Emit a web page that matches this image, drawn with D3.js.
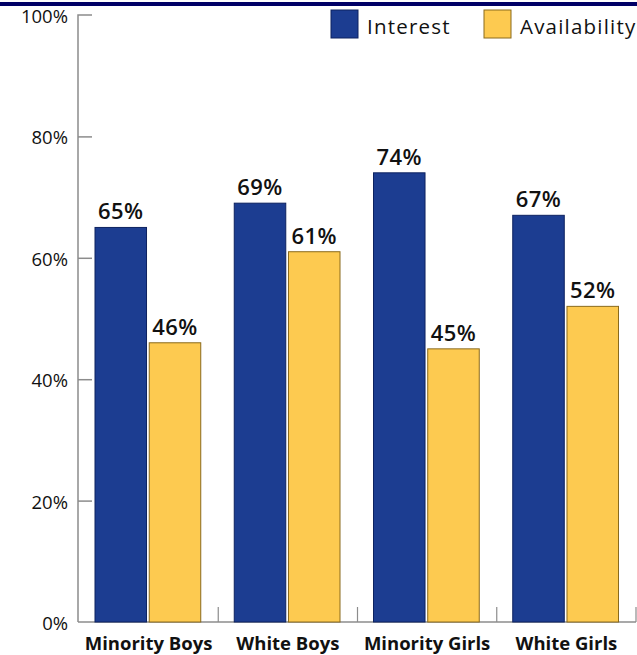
<!DOCTYPE html>
<html><head><meta charset="utf-8">
<script src="https://cdn.jsdelivr.net/npm/d3@7"></script>
<style>
html,body{margin:0;padding:0;background:#fff;}
svg{display:block;font-family:"Open Sans",sans-serif;}
</style></head>
<body><svg id="c" width="637" height="655"></svg>
<script>
const categories = ["Minority Boys","White Boys","Minority Girls","White Girls"];
const seriesNames = ["Interest","Availability"];
const interest = [65,69,74,67];
const availability = [46,61,45,52];
const yTicks = [0,20,40,60,80,100];
const colors = ["#1c3d91","#fdca50"];
const strokes = ["#0d2260","#8a6a1c"];

const svg = d3.select("#c");
const W = 637, H = 655;
const x0 = 79, x1 = 636, y0 = 622, y1 = 15;

// top band
svg.append("rect").attr("x",0).attr("y",2).attr("width",W).attr("height",4).attr("fill","#000066");

const x = d3.scaleBand().domain(categories).range([x0,x1]).paddingInner(0).paddingOuter(0);
const xs = d3.scaleBand().domain(seriesNames).range([16, x.bandwidth()-17.5]).paddingInner(0.05);
const y = d3.scaleLinear().domain([0,100]).range([y0,y1]);

// y axis
const yAxis = d3.axisRight(y).tickValues(yTicks).tickSize(14).tickFormat("");
const gy = svg.append("g").attr("transform",`translate(${x0-1},0)`).call(yAxis);
gy.select(".domain").attr("stroke","#8c8c8c").attr("stroke-width",1.5).attr("d",`M14,${y1}H0V${y0}`);
gy.selectAll(".tick line").attr("stroke","#8c8c8c").attr("stroke-width",1.5);
gy.selectAll(".tick").filter(d=>d===0||d===100).select("line").remove();
// y labels
svg.append("g").selectAll("text").data(yTicks).join("text")
  .attr("x",68).attr("y",d=>y(d)+8).attr("text-anchor","end")
  .attr("font-size",18.5).attr("font-weight",500).attr("fill","#111").text(d=>d+"%");

// baseline
svg.append("line").attr("x1",x0-1).attr("x2",x1).attr("y1",y0).attr("y2",y0).attr("stroke","#8c8c8c").attr("stroke-width",1.5);
// group separators
svg.append("g").selectAll("line").data(categories).join("line")
  .attr("x1",d=>x(d)+x.bandwidth()).attr("x2",d=>x(d)+x.bandwidth())
  .attr("y1",y0).attr("y2",y0-15).attr("stroke","#8c8c8c").attr("stroke-width",1.2);

const data = categories.map((c,i)=>({cat:c, vals:[interest[i],availability[i]]}));
const groups = svg.append("g").selectAll("g").data(data).join("g")
  .attr("transform",d=>`translate(${x(d.cat)},0)`);
groups.selectAll("rect").data(d=>d.vals.map((v,j)=>({s:seriesNames[j],v,j}))).join("rect")
  .attr("x",d=>xs(d.s)).attr("width",xs.bandwidth())
  .attr("y",d=>y(d.v)).attr("height",d=>y0-y(d.v))
  .attr("fill",d=>colors[d.j]).attr("stroke",d=>strokes[d.j]).attr("stroke-width",1);
groups.selectAll("text.v").data(d=>d.vals.map((v,j)=>({s:seriesNames[j],v,j}))).join("text")
  .attr("class","v")
  .attr("x",d=>xs(d.s)+xs.bandwidth()/2).attr("y",d=>y(d.v)-8)
  .attr("text-anchor","middle").attr("font-size",22).attr("font-weight",600)
  .attr("letter-spacing",0.5).attr("fill","#111").text(d=>d.v+"%");

// category labels
svg.append("g").selectAll("text").data(categories).join("text")
  .attr("x",d=>x(d)+x.bandwidth()/2).attr("y",650).attr("text-anchor","middle")
  .attr("font-size",18.5).attr("font-weight",700).attr("fill","#111").text(d=>d);

// legend
const legX = [331,484];
const lg = svg.append("g").selectAll("g").data(seriesNames).join("g")
  .attr("transform",(d,i)=>`translate(${legX[i]},10)`);
lg.append("rect").attr("width",27).attr("height",28)
  .attr("fill",(d,i)=>colors[i]).attr("stroke",(d,i)=>strokes[i]).attr("stroke-width",1);
lg.append("text").attr("x",36).attr("y",24).attr("font-size",20.5).attr("font-weight",500)
  .attr("letter-spacing",1.2).attr("fill","#111").text(d=>d);
</script></body></html>
